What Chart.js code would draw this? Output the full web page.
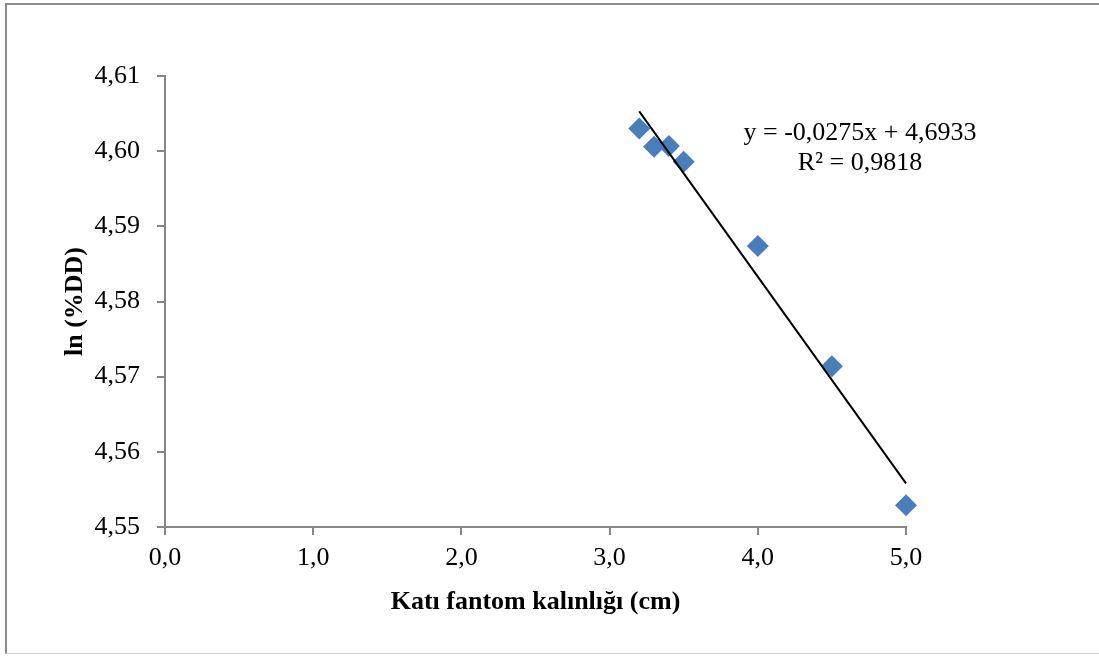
<!DOCTYPE html>
<html>
<head>
<meta charset="utf-8">
<script src="https://cdn.jsdelivr.net/npm/chart.js@4.4.1/dist/chart.umd.min.js"></script>
<style>
  html, body { margin: 0; padding: 0; background: #fff; }
  #wrap { position: relative; width: 1099px; height: 657px; overflow: hidden; }
  #frame {
    position: absolute; left: 5px; top: 3px; width: 1100px; height: 651px;
    border-left: 2px solid #8c8c8c; border-top: 2px solid #8c8c8c;
    border-bottom: 1px solid #d4d4d4; box-sizing: border-box;
  }
  #chart { position: absolute; left: 0; top: 0; }
</style>
</head>
<body>
<div id="wrap">
  <div id="frame"></div>
  <canvas id="chart" width="1099" height="657"></canvas>
</div>
<script>
// Ölçüm verileri
const kalinlik = [3.2, 3.3, 3.4, 3.5, 4.0, 4.5, 5.0];
const lnDD = [4.6030, 4.6006, 4.6007, 4.5986, 4.5874, 4.5714, 4.5529];

// Doğrusal eğilim çizgisi katsayıları
const egim = -0.0275;
const kesisim = 4.6933;
const r2 = 0.9818;
const trendX = [3.2, 5.0];

const xTitle = 'Katı fantom kalınlığı (cm)';
const yTitle = 'ln (%DD)';
const denklem = [
  'y = ' + egim.toFixed(4).replace('.', ',') + 'x + ' + kesisim.toFixed(4).replace('.', ','),
  'R² = ' + r2.toFixed(4).replace('.', ',')
];

const serif = '"Liberation Serif", "Times New Roman", serif';

// Eksen başlıkları ve denklem yazısı
const yaziEklentisi = {
  id: 'yazilar',
  afterDraw(chart) {
    const ctx = chart.ctx;
    const area = chart.chartArea;
    ctx.save();
    ctx.fillStyle = '#000';
    ctx.textAlign = 'center';
    ctx.textBaseline = 'middle';
    ctx.font = 'bold 26px ' + serif;
    ctx.fillText(xTitle, (area.left + area.right) / 2, 602);
    ctx.save();
    ctx.translate(75, (area.top + area.bottom) / 2);
    ctx.rotate(-Math.PI / 2);
    ctx.fillText(yTitle, 0, 0);
    ctx.restore();
    ctx.font = '26px ' + serif;
    ctx.fillText(denklem[0], 860, 133);
    ctx.fillText(denklem[1], 860, 163);
    ctx.restore();
  }
};

new Chart(document.getElementById('chart'), {
  type: 'scatter',
  data: {
    datasets: [
      {
        label: 'ln (%DD)',
        data: kalinlik.map((x, i) => ({ x: x, y: lnDD[i] })),
        pointStyle: 'rectRot',
        pointRadius: 11,
        pointHoverRadius: 11,
        pointBorderWidth: 0,
        backgroundColor: '#4a7ebb',
        borderColor: '#4a7ebb',
        clip: false,
        order: 2
      },
      {
        label: 'Doğrusal',
        type: 'line',
        data: trendX.map(x => ({ x: x, y: egim * x + kesisim })),
        borderColor: '#000',
        borderWidth: 2,
        pointRadius: 0,
        fill: false,
        clip: false,
        order: 1
      }
    ]
  },
  options: {
    responsive: false,
    animation: false,
    layout: { padding: { left: 0, top: 76, right: 193, bottom: 0 } },
    plugins: { legend: { display: false }, tooltip: { enabled: false } },
    scales: {
      x: {
        type: 'linear',
        min: 0,
        max: 5,
        afterFit(scale) { scale.height = 130; },
        border: { color: '#868686', width: 2 },
        grid: { drawOnChartArea: false, drawTicks: true, tickLength: 8, color: '#868686', lineWidth: 2 },
        ticks: {
          stepSize: 1,
          padding: 8,
          color: '#000',
          font: { family: serif, size: 26 },
          callback: v => v.toFixed(1).replace('.', ',')
        }
      },
      y: {
        type: 'linear',
        min: 4.55,
        max: 4.61,
        afterFit(scale) { scale.width = 165; },
        border: { color: '#868686', width: 2 },
        grid: { drawOnChartArea: false, drawTicks: true, tickLength: 8, color: '#868686', lineWidth: 2 },
        ticks: {
          stepSize: 0.01,
          padding: 17,
          color: '#000',
          font: { family: serif, size: 26 },
          callback: v => v.toFixed(2).replace('.', ',')
        }
      }
    }
  },
  plugins: [yaziEklentisi]
});
</script>
</body>
</html>
